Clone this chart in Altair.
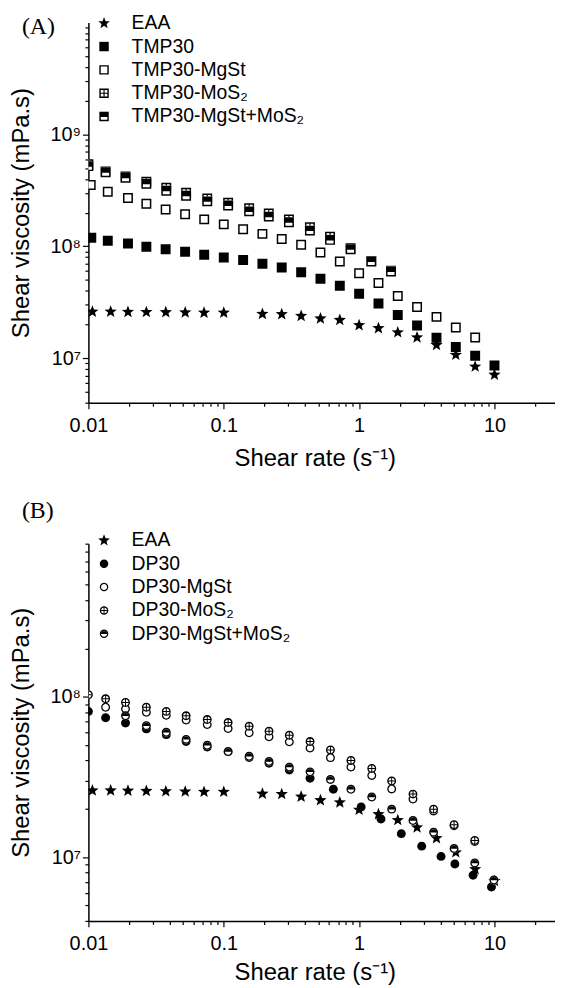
import math
import pandas as pd
import altair as alt

# ---------------- Panel A data ----------------
eaa_x = [0.0107, 0.0146, 0.0196, 0.0268, 0.0373, 0.0519, 0.0715, 0.100, 0.193, 0.268, 0.373,
         0.518, 0.720, 1.00, 1.39, 1.93, 2.68, 3.73, 5.18, 7.20, 10.0]
eaa_y = [2.60e7, 2.60e7, 2.59e7, 2.58e7, 2.57e7, 2.56e7, 2.55e7, 2.55e7, 2.48e7, 2.47e7, 2.38e7,
         2.26e7, 2.19e7, 1.97e7, 1.85e7, 1.70e7, 1.53e7, 1.31e7, 1.07e7, 8.4e6, 7.1e6]

tmp_x = [0.0105, 0.0139, 0.0196, 0.0268, 0.0372, 0.0518, 0.0717, 0.100, 0.139, 0.193, 0.268,
         0.373, 0.518, 0.720, 1.00, 1.39, 1.93, 2.68, 3.73, 5.18, 7.20, 10.0]
tmp_y = [1.19e8, 1.12e8, 1.06e8, 9.9e7, 9.4e7, 8.95e7, 8.4e7, 7.95e7, 7.55e7, 6.97e7, 6.45e7,
         5.85e7, 5.13e7, 4.43e7, 3.77e7, 3.08e7, 2.43e7, 1.96e7, 1.52e7, 1.26e7, 1.05e7, 8.6e6]

tmpm_x = [0.0104, 0.0139, 0.0196, 0.0268, 0.0372, 0.0518, 0.0717, 0.100, 0.139, 0.193, 0.268,
          0.373, 0.518, 0.720, 1.00, 1.39, 1.93, 2.68, 3.73, 5.18, 7.20]
tmpm_y = [3.53e8, 3.07e8, 2.70e8, 2.40e8, 2.13e8, 1.93e8, 1.74e8, 1.57e8, 1.42e8, 1.29e8, 1.16e8,
          1.03e8, 8.8e7, 7.3e7, 5.75e7, 4.69e7, 3.59e7, 2.87e7, 2.34e7, 1.88e7, 1.53e7]

tmpmo_x = [0.0100, 0.0134, 0.0188, 0.0268, 0.0376, 0.0527, 0.0755, 0.1077, 0.154, 0.215, 0.303,
           0.433, 0.610, 0.865, 1.23, 1.72]
tmpmo_y = [5.4e8, 4.65e8, 4.2e8, 3.78e8, 3.33e8, 3.01e8, 2.68e8, 2.45e8, 2.19e8, 1.96e8, 1.74e8,
           1.48e8, 1.22e8, 9.6e7, 7.4e7, 6.05e7]

tmpb_x = [0.0100, 0.0134, 0.0188, 0.0268, 0.0376, 0.0527, 0.0755, 0.1077, 0.154, 0.215, 0.303,
          0.433, 0.610, 0.865, 1.23, 1.72]
tmpb_y = [5.2e8, 4.58e8, 4.1e8, 3.62e8, 3.13e8, 2.83e8, 2.52e8, 2.31e8, 2.05e8, 1.84e8, 1.64e8,
          1.38e8, 1.14e8, 9.4e7, 7.3e7, 5.95e7]

# ---------------- Panel B data ----------------
dp_x = [0.0100, 0.0134, 0.0188, 0.0268, 0.0376, 0.0527, 0.0755, 0.1077, 0.154, 0.216, 0.305,
        0.434, 0.645, 1.035, 1.45, 2.05, 2.90, 4.03, 5.10, 6.95, 9.5]
dp_y = [8.1e7, 7.4e7, 6.85e7, 6.3e7, 5.8e7, 5.26e7, 4.86e7, 4.53e7, 4.18e7, 3.84e7, 3.49e7,
        3.1e7, 2.65e7, 2.05e7, 1.73e7, 1.40e7, 1.17e7, 1.01e7, 9.05e6, 7.7e6, 6.5e6]

dpm_x = [0.0134, 0.0188, 0.0268, 0.0376, 0.0527, 0.0755, 0.1077, 0.154, 0.216, 0.305, 0.434,
         0.614, 0.870, 1.24, 1.74, 2.50, 3.55, 5.03, 7.15]
dpm_y = [8.6e7, 8.4e7, 8.0e7, 7.65e7, 7.15e7, 6.7e7, 6.33e7, 5.96e7, 5.63e7, 5.23e7, 4.78e7,
         4.17e7, 3.64e7, 3.23e7, 2.66e7, 2.30e7, 1.94e7, 1.57e7, 1.25e7]

dpmo_x = [0.0100, 0.0134, 0.0188, 0.0268, 0.0376, 0.0527, 0.0755, 0.1077, 0.154, 0.216, 0.305,
          0.434, 0.614, 0.870, 1.24, 1.74, 2.50, 3.55, 5.03, 7.15]
dpmo_y = [1.03e8, 9.7e7, 9.2e7, 8.6e7, 8.1e7, 7.6e7, 7.2e7, 6.9e7, 6.55e7, 6.1e7, 5.75e7,
          5.25e7, 4.65e7, 4.0e7, 3.57e7, 2.98e7, 2.47e7, 1.99e7, 1.59e7, 1.27e7]

dpb_x = [0.0188, 0.0268, 0.0376, 0.0527, 0.0755, 0.1077, 0.154, 0.216, 0.305, 0.434, 0.614,
         0.870, 1.24, 1.74, 2.50, 3.55, 5.03, 7.15, 9.9]
dpb_y = [7.6e7, 6.6e7, 6.0e7, 5.42e7, 4.98e7, 4.55e7, 4.25e7, 3.95e7, 3.64e7, 3.4e7, 3.05e7,
         2.65e7, 2.37e7, 1.99e7, 1.69e7, 1.43e7, 1.13e7, 9.2e6, 7.2e6]

names_a = ["EAA", "TMP30", "TMP30-MgSt", "TMP30-MoS\u2082", "TMP30-MgSt+MoS\u2082"]
names_b = ["EAA", "DP30", "DP30-MgSt", "DP30-MoS\u2082", "DP30-MgSt+MoS\u2082"]

x_major_labels = {0.01: "0.01", 0.1: "0.1", 1: "1", 10: "10"}

# ---------------- glyph paths (fill-only, nonzero winding) ----------------
def star_path(ro=1.3, ri=0.55):
    pts = []
    for k in range(10):
        a = math.radians(-90 + 36 * k)
        r = ro if k % 2 == 0 else ri
        pts.append(f"{r*math.cos(a):.3f},{r*math.sin(a):.3f}")
    return "M" + "L".join(pts) + "Z"

def sq(a):
    return f"M{-a},{-a}H{a}V{a}H{-a}Z"

def sq_ccw(a):
    return f"M{-a},{-a}V{a}H{a}V{-a}Z"

def circ(r):
    return f"M{r},0A{r},{r} 0 1,1 {-r},0A{r},{r} 0 1,1 {r},0Z"

def circ_ccw(r):
    return f"M{r},0A{r},{r} 0 1,0 {-r},0A{r},{r} 0 1,0 {r},0Z"

SQ_IN = 0.70
CR, CR_IN = 0.9, 0.64
STAR = star_path()
SQ_FILL = sq(1)
SQ_OPEN = sq(1) + sq_ccw(SQ_IN)
SQ_CROSS = SQ_OPEN + f"M-0.12,{-SQ_IN}H0.12V{SQ_IN}H-0.12Z" + f"M{-SQ_IN},-0.12H{SQ_IN}V0.12H{-SQ_IN}Z"
SQ_HALF = SQ_OPEN + f"M{-SQ_IN},{-SQ_IN}H{SQ_IN}V0.1H{-SQ_IN}Z"
C_FILL = circ(CR)
C_OPEN = circ(CR) + circ_ccw(CR_IN)
C_CROSS = C_OPEN + f"M-0.1,{-CR_IN}H0.1V{CR_IN}H-0.1Z" + f"M{-CR_IN},-0.1H{CR_IN}V0.1H{-CR_IN}Z"
C_HALF = C_OPEN + f"M{-CR_IN},0.05A{CR_IN},{CR_IN} 0 0,1 {CR_IN},0.05Z"

FONT = "Liberation Sans"


def panel(series, names, paths, under, ydomain, ymajor, height, tag, tag_y, leg_y, xtp):
    xticks = [m * 10 ** e for e in (-2, -1, 0, 1) for m in range(1, 10) if m * 10 ** e <= 28]
    yticks = [m * 10 ** e for e in (6, 7, 8, 9) for m in range(1, 10)
              if ydomain[0] <= m * 10 ** e <= ydomain[1]]
    x_major_test = " || ".join(f"datum.value == {v}" for v in x_major_labels)
    x_label_expr = "".join(f"datum.value == {v} ? '{t}' : " for v, t in x_major_labels.items()) + "''"
    sup = {7: "\u2077", 8: "\u2078", 9: "\u2079"}
    y_major_test = " || ".join(f"datum.value == {10 ** e}" for e in ymajor)
    y_label_expr = "".join(f"datum.value == {10 ** e} ? '10{sup[e]}' : " for e in ymajor) + "''"

    X = alt.X("x:Q", scale=alt.Scale(type="log", domain=[0.01, 28], nice=False),
              axis=alt.Axis(values=xticks, labelExpr=x_label_expr, title="Shear rate (s\u207b\u00b9)",
                            tickSize={"condition": {"test": x_major_test, "value": 6}, "value": 3.5},
                            labelFlush=False, labelOverlap=False, labelPadding=7,
                            titlePadding=xtp, titleX=228, titleAlign="center", grid=False,
                            labelFont=FONT, labelFontSize=20, labelColor="black",
                            titleFont=FONT, titleFontSize=24, titleFontWeight="normal",
                            titleColor="black", domainColor="black", domainWidth=1.5,
                            tickColor="black", tickWidth=1.2))
    Y = alt.Y("y:Q", scale=alt.Scale(type="log", domain=ydomain, nice=False),
              axis=alt.Axis(values=yticks, labelExpr=y_label_expr, title="Shear viscosity (mPa.s)",
                            tickSize={"condition": {"test": y_major_test, "value": 6}, "value": 3.5},
                            labelOverlap=False, labelPadding=2, titlePadding=17, grid=False,
                            labelFont=FONT, labelFontSize=20, labelColor="black",
                            titleFont=FONT, titleFontSize=24, titleFontWeight="normal",
                            titleColor="black", domainColor="black", domainWidth=1.5,
                            tickColor="black", tickWidth=1.2))
    legend = alt.Legend(orient="none", legendX=6, legendY=leg_y, title=None,
                        labelFont=FONT, labelFontSize=19.5, labelLimit=400, symbolSize=90,
                        rowPadding=2.5, labelOffset=18, symbolFillColor="black",
                        symbolStrokeWidth=0, symbolOpacity=1, symbolStrokeColor="black",
                        labelColor="black")
    shape_scale = alt.Scale(domain=names, range=paths)
    layers = []
    for (xs, ys), name, u in zip(series, names, under):
        df = pd.DataFrame({"x": xs, "y": ys, "series": name})
        base = alt.Chart(df).encode(x=X, y=Y)
        if u is not None:
            layers.append(base.mark_point(shape=u, filled=True, color="white", opacity=1,
                                          size=100, clip=True, strokeWidth=0))
        layers.append(base.mark_point(filled=True, color="black", opacity=1, size=100,
                                      clip=True, strokeWidth=0)
                      .encode(shape=alt.Shape("series:N", scale=shape_scale, legend=legend)))
    lab = alt.Chart(pd.DataFrame({"t": [tag]})).mark_text(
        align="left", baseline="middle", font="Liberation Serif", fontSize=24, color="black"
    ).encode(text="t:N", x=alt.value(-67), y=alt.value(tag_y))
    layers.append(lab)
    return alt.layer(*layers).properties(width=470, height=height)


pa = panel([(eaa_x, eaa_y), (tmp_x, tmp_y), (tmpm_x, tmpm_y), (tmpmo_x, tmpmo_y), (tmpb_x, tmpb_y)],
           names_a, [STAR, SQ_FILL, SQ_OPEN, SQ_CROSS, SQ_HALF],
           [None, None, SQ_FILL, SQ_FILL, SQ_FILL],
           [4e6, 1e10], [7, 8, 9], 383, "(A)", 5, -9, 11)
pb = panel([(eaa_x, eaa_y), (dp_x, dp_y), (dpm_x, dpm_y), (dpmo_x, dpmo_y), (dpb_x, dpb_y)],
           names_b, [STAR, C_FILL, C_OPEN, C_CROSS, C_HALF],
           [None, None, C_FILL, C_FILL, C_FILL],
           [4e6, 9e8], [7, 8], 380, "(B)", -33, -13, 7)

chart = alt.vconcat(pa, pb, spacing=29).resolve_scale(
    shape="independent", x="independent", y="independent"
).resolve_legend(shape="independent").properties(
    padding={"left": 1, "top": 2, "right": 0, "bottom": 0}, background="white"
).configure_view(stroke=None)

chart.save("out.html", embed_options={"renderer": "svg", "actions": False})
